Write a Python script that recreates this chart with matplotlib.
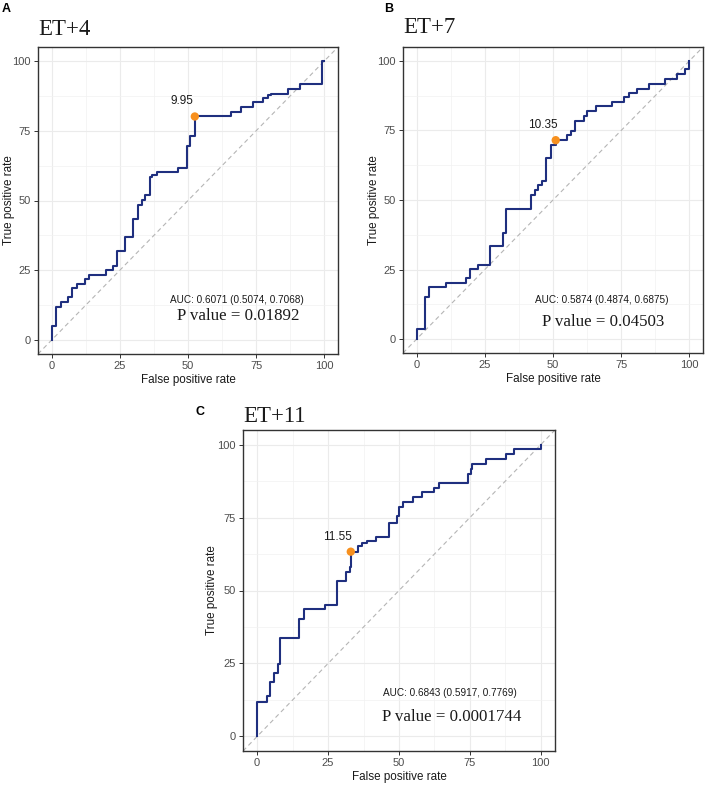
import matplotlib
matplotlib.use("Agg")
import matplotlib.pyplot as plt
from matplotlib.ticker import MultipleLocator

# ROC corner points (fpr, tpr) in %, drawn as steps-post
fpr_a = [0, 0, 1.5, 3.3, 6.1, 7.6, 9.2, 12.1, 13.7, 19.8, 22.6, 24.1, 26.9, 29.9,
         31.6, 33.2, 34.4, 35.9, 36.8, 38.7, 46.4, 49.5, 50.7, 50.9, 52.5, 65.8,
         69.6, 73.9, 77.5, 79.2, 80.5, 86.6, 91.0, 99.0, 100]
tpr_a = [0, 4.9, 11.8, 13.5, 15.3, 18.5, 20.0, 21.8, 23.4, 25.2, 26.7, 31.9, 36.8,
         43.4, 48.4, 50.2, 51.8, 58.4, 59.3, 60.1, 61.8, 69.7, 71.1, 73.2, 80.1,
         81.7, 83.5, 85.2, 86.8, 87.8, 88.3, 90.1, 91.8, 100, 100]

fpr_b = [0, 0, 3.0, 4.5, 10.7, 18.0, 19.5, 22.6, 26.8, 31.7, 32.9, 41.8, 43.3, 44.6,
         46.1, 47.6, 49.1, 51.0, 55.2, 56.7, 58.2, 61.3, 62.6, 65.6, 71.7, 76.2,
         78.0, 80.7, 85.1, 91.2, 95.4, 98.5, 100, 100]
tpr_b = [0, 3.7, 15.3, 18.6, 20.0, 21.8, 25.2, 26.7, 33.5, 38.3, 46.9, 51.8, 53.5,
         55.3, 56.8, 65.2, 69.9, 71.5, 73.5, 74.9, 78.3, 80.1, 81.9, 83.7, 85.1,
         86.9, 88.4, 90.0, 91.8, 93.4, 95.3, 97.0, 100, 100]

fpr_c = [0, 0, 3.5, 4.4, 5.9, 7.3, 8.2, 8.2, 14.9, 16.4, 23.8, 28.1, 31.3, 32.6,
         33.0, 35.7, 37.0, 38.6, 41.8, 46.3, 49.2, 50.0, 51.5, 54.8, 58.0, 62.4,
         64.2, 74.4, 75.3, 75.9, 80.6, 87.8, 90.7, 100, 100]
tpr_c = [0, 11.8, 13.7, 18.6, 21.8, 24.9, 26.6, 33.8, 40.1, 43.5, 45.2, 53.3, 56.4,
         58.2, 63.3, 65.3, 66.3, 66.8, 68.5, 73.3, 75.5, 78.5, 80.2, 81.9, 83.6,
         85.1, 86.7, 89.9, 91.5, 93.4, 95.1, 96.8, 98.5, 100, 100]

# best cutoff points
cut_x = [52.5, 51.0, 33.0]
cut_y = [80.1, 71.5, 63.3]
cut_labels = ["9.95", "10.35", "11.55"]

titles = ["ET+4", "ET+7", "ET+11"]
panel_tags = ["A", "B", "C"]
auc_texts = ["AUC: 0.6071 (0.5074, 0.7068)",
             "AUC: 0.5874 (0.4874, 0.6875)",
             "AUC: 0.6843 (0.5917, 0.7769)"]
p_texts = ["P value = 0.01892", "P value = 0.04503", "P value = 0.0001744"]
auc_y = [14.3, 14.0, 15.0]
p_y = [8.6, 6.2, 6.6]

W, H = 709, 788
fig = plt.figure(figsize=(W / 100, H / 100), dpi=100)
fig.patch.set_facecolor("white")

# axes boxes in pixels: left, top, right, bottom
boxes = [(38, 47, 338, 354), (403, 47, 703, 353), (243, 430, 555, 751)]
title_gap = [12, 14, 8]   # pixels between title baseline and axes top
tag_pos = [(2, 9), (384, 9), (196, 412)]
curves = [(fpr_a, tpr_a), (fpr_b, tpr_b), (fpr_c, tpr_c)]

sans = "Liberation Sans"
serif = "Liberation Serif"
navy = "#1f2f7f"
orange = "#f7901e"

for i, (l, t, r, b) in enumerate(boxes):
    ax = fig.add_axes([l / W, (H - b) / H, (r - l) / W, (b - t) / H])
    ax.set_xlim(-5, 105)
    ax.set_ylim(-5, 105)

    ax.xaxis.set_major_locator(MultipleLocator(25))
    ax.yaxis.set_major_locator(MultipleLocator(25))
    ax.xaxis.set_minor_locator(MultipleLocator(12.5))
    ax.yaxis.set_minor_locator(MultipleLocator(12.5))
    ax.grid(which="major", color="#ebebeb", linewidth=0.8)
    ax.grid(which="minor", color="#f2f2f2", linewidth=0.5)
    ax.set_axisbelow(True)
    ax.tick_params(which="minor", length=0)
    ax.tick_params(which="major", length=3, width=0.7, color="#333333",
                   labelsize=8, labelcolor="#4d4d4d", pad=2)
    for lab in ax.get_xticklabels() + ax.get_yticklabels():
        lab.set_family(sans)
    for s in ax.spines.values():
        s.set_color("#333333")
        s.set_linewidth(1.0)

    ax.plot([-5, 105], [-5, 105], color="#b5b5b5", linestyle=(0, (4, 3)),
            linewidth=0.8, zorder=1)
    fx, ty = curves[i]
    ax.plot(fx, ty, drawstyle="steps-post", color=navy, linewidth=1.5, zorder=2)
    ax.scatter([cut_x[i]], [cut_y[i]], s=36, color=orange, zorder=3,
               edgecolors="none")
    ax.annotate(cut_labels[i], (cut_x[i], cut_y[i]), xytext=(-13, 15),
                textcoords="offset pixels", ha="center", va="center",
                fontsize=8.5, family=sans, color="#1a1a1a")

    ax.text(68, auc_y[i], auc_texts[i], ha="center", va="center",
            fontsize=7.2, family=sans, color="#1a1a1a")
    ax.text(68.5, p_y[i], p_texts[i], ha="center", va="center",
            fontsize=12.2, family=serif, color="#1a1a1a")

    ax.set_xlabel("False positive rate", fontsize=8.4, family=sans,
                  color="#1a1a1a", labelpad=2)
    ax.set_ylabel("True positive rate", fontsize=8.4, family=sans,
                  color="#1a1a1a", va="center")
    ax.yaxis.set_label_coords(-0.098, 0.5)

    ax.text(0.0, 1 + title_gap[i] / (b - t), titles[i], transform=ax.transAxes,
            ha="left", va="baseline", fontsize=16.5, family=serif,
            color="#1a1a1a")

    tx, tyy = tag_pos[i]
    fig.text(tx / W, 1 - tyy / H, panel_tags[i], fontsize=9, fontweight="bold",
             family=sans, va="center", ha="left")

fig.savefig("out.png", dpi=100)
